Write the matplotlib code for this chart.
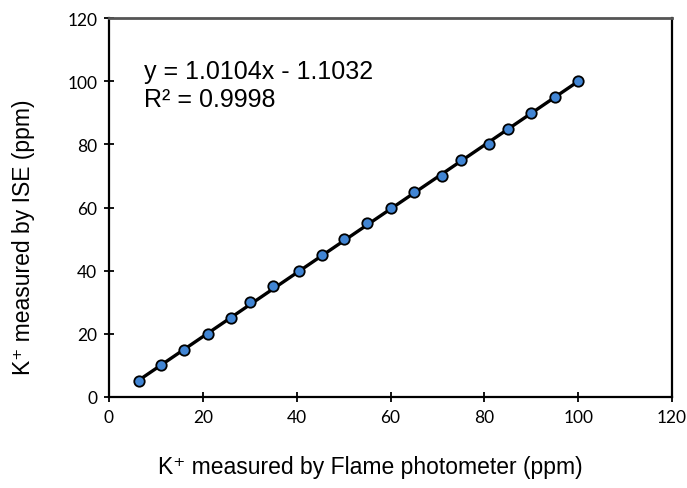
import numpy as np
import matplotlib
matplotlib.use('Agg')
import matplotlib.pyplot as plt

# K+ readings: flame photometer (x) vs ISE (y), ppm
flame_ppm = [6.5, 11.0, 16.0, 21.0, 26.0, 30.0, 35.0, 40.5, 45.5, 50.0,
             55.0, 60.0, 65.0, 71.0, 75.0, 81.0, 85.0, 90.0, 95.0, 100.0]
ise_ppm = [5, 10, 15, 20, 25, 30, 35, 40, 45, 50,
           55, 60, 65, 70, 75, 80, 85, 90, 95, 100]
ticks = [0, 20, 40, 60, 80, 100, 120]
fit_slope = 1.0104
fit_intercept = -1.1032

txt_font = ['Liberation Sans', 'DejaVu Sans']
tick_font = 'Lato'

fig = plt.figure(figsize=(6.87, 4.89), dpi=100)
ax = fig.add_axes([109 / 687, 1 - 398 / 489, (672 - 109) / 687, (398 - 19) / 489])

# trendline over the data range
x = np.array(flame_ppm)
xs = np.array([x.min(), x.max()])
ax.plot(xs, fit_slope * xs + fit_intercept, color='black', linewidth=2.4, zorder=2)

ax.plot(flame_ppm, ise_ppm, linestyle='none', marker='o', markersize=7.5,
        markerfacecolor='#4185d4', markeredgecolor='black', markeredgewidth=1.3, zorder=3)

ax.set_xlim(0, 120)
ax.set_ylim(0, 120)
ax.set_xticks(ticks)
ax.set_yticks(ticks)
ax.tick_params(direction='inout', length=7, width=1.3, labelsize=12.5, pad=5)
for lbl in ax.get_xticklabels() + ax.get_yticklabels():
    lbl.set_fontfamily(tick_font)

for side in ['left', 'bottom', 'right']:
    ax.spines[side].set_linewidth(1.6)
    ax.spines[side].set_color('black')
ax.spines['top'].set_linewidth(2.0)
ax.spines['top'].set_color('#555555')

# equation text
fig.text(144 / 687, 1 - 72 / 489, 'y = 1.0104x - 1.1032', fontsize=18, family=txt_font,
         va='center', ha='left')
fig.text(144 / 687, 1 - 100 / 489, 'R\u00b2 = 0.9998', fontsize=18, family=txt_font,
         va='center', ha='left')

# axis labels
fig.text(370 / 687, 1 - 468 / 489, 'K\u207a measured by Flame photometer (ppm)',
         fontsize=16.5, family=txt_font, ha='center', va='center')
fig.text(24 / 687, 1 - 237 / 489, 'K\u207a measured by ISE (ppm)',
         fontsize=16.5, family=txt_font, ha='center', va='center', rotation=90)

plt.savefig('out.png', dpi=100)
